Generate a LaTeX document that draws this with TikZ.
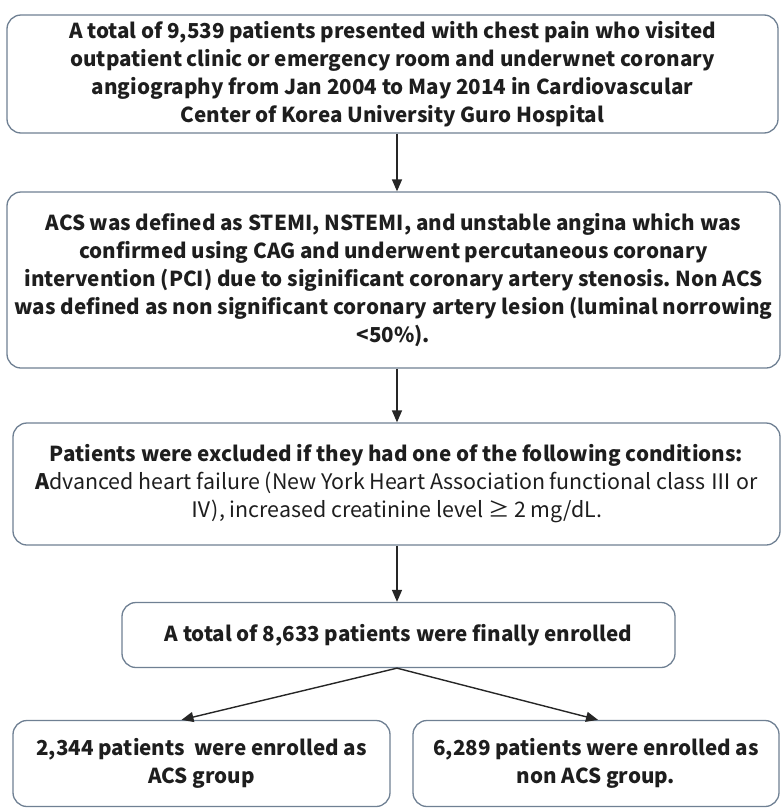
\documentclass[tikz,border=0pt]{standalone}
\usepackage{fontspec}
\setmainfont{Noto Sans CJK KR}
\usetikzlibrary{arrows.meta,calc}

\definecolor{boxline}{HTML}{6F8093}
\definecolor{ink}{HTML}{1E1E1E}

\frenchspacing
\newcommand{\plainline}[1]{{\mdseries\fontsize{21.4}{28}\selectfont #1}}

\begin{document}
\begin{tikzpicture}[x=1pt,y=-1pt,
  font=\fontsize{20.6}{28}\selectfont\bfseries,
  flowbox/.style={draw=boxline, line width=1.3pt, rounded corners=14pt,
    align=center, text=ink, inner sep=0pt, fill=white},
  arr/.style={-{Triangle[length=12pt,width=10pt]}, line width=1.4pt, draw=black!85}]

\useasboundingbox (0,0) rectangle (782,809);

% spine of the flow
\coordinate (spine) at (397,0);

\node[flowbox, minimum width=771pt, minimum height=118pt] (b1) at (392.5,74)
  {A total of 9,539 patients presented with chest pain who visited\\
   outpatient clinic or emergency room and underwnet coronary\\
   angiography from Jan 2004 to May 2014 in Cardiovascular\\
   Center of Korea University Guro Hospital};

\node[flowbox, minimum width=773pt, minimum height=176pt] (b2) at (393.5,280)
  {ACS was defined as STEMI, NSTEMI, and unstable angina which was\\
   confirmed using CAG and underwent percutaneous coronary\\
   intervention (PCI) due to siginificant coronary artery stenosis. Non ACS\\
   was defined as non significant coronary artery lesion (luminal norrowing\\
   <50\%).};

\node[flowbox, minimum width=767pt, minimum height=122pt] (b3) at (396.5,484)
  {Patients were excluded if they had one of the following conditions:\\
   \plainline{\textbf{A}dvanced heart failure (New York Heart Association functional class Ⅲ or}\\
   \plainline{Ⅳ), increased creatinine level ≥ 2 mg/dL.}};

\node[flowbox, minimum width=553pt, minimum height=65pt] (b4) at (398.5,635)
  {A total of 8,633 patients were finally enrolled};

\node[flowbox, minimum width=377pt, minimum height=86pt] (b5) at (201.5,763.5)
  {2,344 patients\ \ were enrolled as\\ ACS group};

\node[flowbox, minimum width=366pt, minimum height=86pt] (b6) at (596,763.5)
  {6,289 patients were enrolled as\\ non ACS group.};

% arrow tips resting on the two group boxes
\coordinate (tipL) at ($(b5.north)+(-20,0)$);
\coordinate (tipR) at ($(b6.north)+(2,0)$);

\draw[arr] (b1.south -| spine) -- (b2.north -| spine);
\draw[arr] (b2.south -| spine) -- (b3.north -| spine);
\draw[arr] (b3.south -| spine) -- (b4.north -| spine);
\draw[arr] (b4.south -| spine) -- (tipL);
\draw[arr] (b4.south -| spine) -- (tipR);

\end{tikzpicture}
\end{document}
